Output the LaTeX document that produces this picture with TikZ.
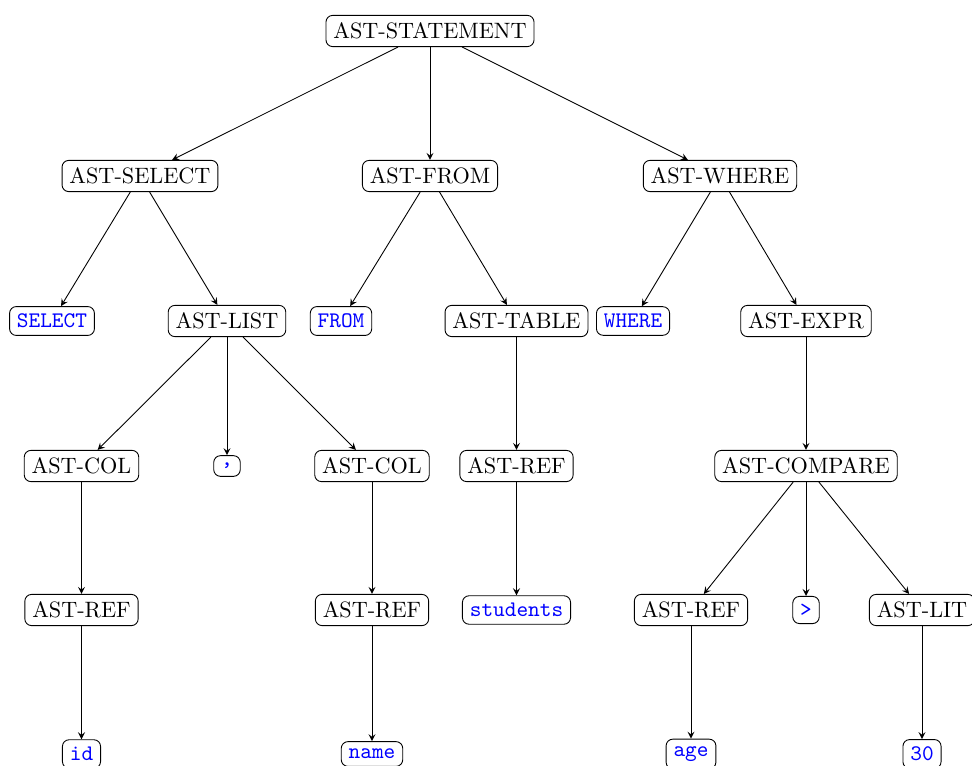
\documentclass[tikz,border=0pt]{standalone}
\begin{document}
\begin{tikzpicture}[x=0.45pt,y=-0.45pt,
  ast/.style={draw,rounded corners=3pt,inner sep=3.33pt},
  tok/.style={ast,font=\ttfamily,text=blue},
  edge/.style={-stealth}]
\clip (0,0) rectangle (972,765);
% level 0
\node[ast] (stmt) at (430,31) {AST-STATEMENT};
% level 1
\node[ast] (sel)   at (140,176) {AST-SELECT};
\node[ast] (from)  at (430,176) {AST-FROM};
\node[ast] (where) at (720,176) {AST-WHERE};
% level 2
\node[tok] (kwsel)   at (52,321)  {SELECT};
\node[ast] (list)    at (227,321) {AST-LIST};
\node[tok] (kwfrom)  at (341,321) {FROM};
\node[ast] (table)   at (516.5,321) {AST-TABLE};
\node[tok] (kwwhere) at (633,321) {WHERE};
\node[ast] (expr)    at (806,321) {AST-EXPR};
% level 3
\node[ast] (col1)  at (81.5,466)  {AST-COL};
\node[tok] (comma) at (227,466) {,};
\node[ast] (col2)  at (372,466) {AST-COL};
\node[ast] (tref)  at (516.5,466) {AST-REF};
\node[ast] (cmp)   at (806,466) {AST-COMPARE};
% level 4
\node[ast] (ref1)  at (81.5,610)  {AST-REF};
\node[ast] (ref2)  at (372,610) {AST-REF};
\node[tok] (stud)  at (516.5,610) {students};
\node[ast] (ref3)  at (691,610) {AST-REF};
\node[tok] (gt)    at (806,610) {>};
\node[ast] (lit)   at (922,610) {AST-LIT};
% level 5
\node[tok] (id)    at (81.5,754)  {id};
\node[tok] (name)  at (372,754) {name};
\node[tok] (age)   at (691,754) {age};
\node[tok] (num)   at (922,754) {30};
% edges
\draw[edge] (stmt) -- (sel);
\draw[edge] (stmt) -- (from);
\draw[edge] (stmt) -- (where);
\draw[edge] (sel) -- (kwsel);
\draw[edge] (sel) -- (list);
\draw[edge] (from) -- (kwfrom);
\draw[edge] (from) -- (table);
\draw[edge] (where) -- (kwwhere);
\draw[edge] (where) -- (expr);
\draw[edge] (list) -- (col1);
\draw[edge] (list) -- (comma);
\draw[edge] (list) -- (col2);
\draw[edge] (table) -- (tref);
\draw[edge] (expr) -- (cmp);
\draw[edge] (col1) -- (ref1);
\draw[edge] (col2) -- (ref2);
\draw[edge] (tref) -- (stud);
\draw[edge] (cmp) -- (ref3);
\draw[edge] (cmp) -- (gt);
\draw[edge] (cmp) -- (lit);
\draw[edge] (ref1) -- (id);
\draw[edge] (ref2) -- (name);
\draw[edge] (ref3) -- (age);
\draw[edge] (lit) -- (num);
\end{tikzpicture}
\end{document}
